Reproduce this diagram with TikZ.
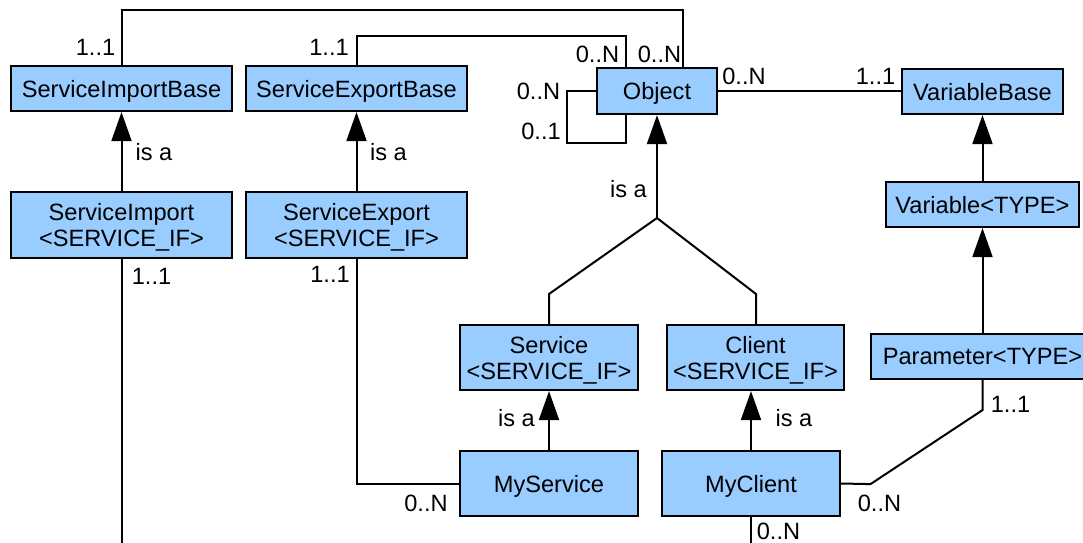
\documentclass[tikz,border=0pt]{standalone}
\usepackage{fontspec}
\setmainfont{Liberation Sans}
\usetikzlibrary{arrows.meta}
\definecolor{clsblue}{HTML}{99CCFF}

\begin{document}
\begin{tikzpicture}[x = 0.5pt, y = -0.5pt,
	every node/.style = {font = \fontsize{11.8}{13}\selectfont, inner sep = 0pt},
	cls/.style = {draw, fill = clsblue, line width = 1.1pt, align = center, text depth = 0pt},
	isa/.style = {-{Triangle[length = 14.5pt, width = 10pt]}, line width = 1pt},
	assoc/.style = {line width = 1pt}]
	\useasboundingbox (0, 0) rectangle (1083, 542);
	% classes
	\node[cls, minimum width = 110.5pt, minimum height = 22.5pt] (sib) at (121.5, 88.5) {ServiceImportBase};
	\node[cls, minimum width = 110.5pt, minimum height = 22.5pt] (seb) at (356.5, 88.5) {ServiceExportBase};
	\node[cls, minimum width = 60pt,    minimum height = 23pt]   (obj) at (657,   91)   {Object};
	\node[cls, minimum width = 80.5pt,  minimum height = 22.5pt] (vb)  at (982.5, 91.5) {VariableBase};
	\node[cls, minimum width = 96.5pt,  minimum height = 22.5pt] (var) at (982.5, 204.5) {Variable<TYPE>};
	\node[cls, minimum width = 110.5pt, minimum height = 33pt]   (si)  at (121.5, 225)  {ServiceImport\\<SERVICE\_IF>};
	\node[cls, minimum width = 110.5pt, minimum height = 33pt]   (se)  at (356.5, 225)  {ServiceExport\\<SERVICE\_IF>};
	\node[cls, minimum width = 89pt,    minimum height = 32.5pt] (svc) at (549,   357.5) {Service\\<SERVICE\_IF>};
	\node[cls, minimum width = 88.5pt,  minimum height = 32.5pt] (cli) at (755.5, 357.5) {Client\\<SERVICE\_IF>};
	\node[cls, minimum width = 111.5pt, minimum height = 22.5pt] (par) at (982.5, 356.5) {Parameter<TYPE>};
	\node[cls, minimum width = 89pt,    minimum height = 32.5pt] (mys) at (549,   483.5) {MyService};
	\node[cls, minimum width = 89pt,    minimum height = 32.5pt] (myc) at (751,   483.5) {MyClient};
	% inheritance
	\coordinate (jn) at (657, 218);
	\coordinate (jl) at (549, 294);
	\coordinate (jr) at (756, 294);
	\draw[isa] (si) -- (sib);
	\draw[isa] (se) -- (seb);
	\draw[isa] (var) -- (vb);
	\draw[isa] (par) -- (var);
	\draw[isa] (mys) -- (svc);
	\draw[isa] (myc.north) -- (myc.north |- cli.south);
	\draw[isa] (jn) -- (obj);
	\draw[assoc] (svc.north) -- (jl) -- (jn) -- (jr) -- (jr |- cli.north);
	% associations
	\draw[assoc] (sib.north) -- ++(0, -55) -| ([xshift = 13pt]obj.north);
	\draw[assoc] (seb.north) -- ++(0, -29) -| ([xshift = -15.5pt]obj.north);
	\draw[assoc] (obj.west) -- ++(-29, 0) -- ++(0, 52) -| ([xshift = -15.5pt]obj.south);
	\draw[assoc] (obj.east) -- (obj.east -| vb.west);
	\draw[assoc] (se.south) |- (mys.west);
	\draw[assoc] (si.south) -- ++(0, 320);
	\draw[assoc] (par.south) -- ++(0, 30) -- ++(-112, 74) -- (myc.east);
	\draw[assoc] (myc.south) -- ++(0, 40);
	% labels
	\node (l1)  at (95.5,  47.5)  {1..1};
	\node (l2)  at (329,   47.5)  {1..1};
	\node (l3)  at (597.5, 54)    {0..N};
	\node (l4)  at (659.5, 54)    {0..N};
	\node (l5)  at (538.5, 91)    {0..N};
	\node (l6)  at (541,   131)   {0..1};
	\node (l7)  at (744,   76.5)  {0..N};
	\node (l8)  at (875.5, 76.5)  {1..1};
	\node (l9)  at (154,   152.5) {is a};
	\node (l10) at (388.5, 152.5) {is a};
	\node (l11) at (628.5, 189.5) {is a};
	\node (l12) at (151.5, 276)   {1..1};
	\node (l13) at (330,   274.5) {1..1};
	\node (l14) at (516.5, 418.5) {is a};
	\node (l15) at (794,   418.5) {is a};
	\node (l16) at (1010.5, 404)  {1..1};
	\node (l17) at (426,   503.5) {0..N};
	\node (l18) at (879.5, 503.5) {0..N};
	\node (l19) at (778.5, 531.5) {0..N};
\end{tikzpicture}
\end{document}
